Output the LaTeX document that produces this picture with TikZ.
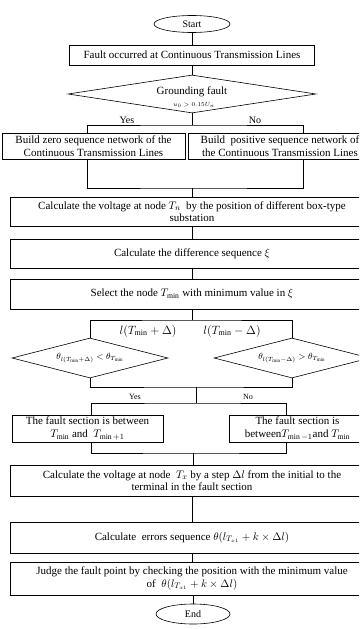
\documentclass[tikz,border=0pt]{standalone}
\usepackage{fontspec}
\setmainfont{Liberation Serif}
\usepackage{amsmath}
\usetikzlibrary{shapes.geometric, positioning, calc}

\begin{document}
\begin{tikzpicture}[x=1pt, y=-1pt, line width=0.6pt,
  font=\fontsize{11}{12.5}\selectfont,
  procbox/.style={draw, rectangle, align=center, inner sep=1pt},
  termbox/.style={draw, ellipse, inner sep=0pt, font=\fontsize{10}{11}\selectfont},
  decbox/.style={draw, diamond, inner sep=0pt},
  branchlbl/.style={inner sep=0pt, font=\fontsize{10}{11}\selectfont}]
  \useasboundingbox (0,0) rectangle (359,629);
  \clip (0,0) rectangle (359,629);

  % start and fault detection
  \node[termbox, minimum width=76pt, minimum height=17pt] (start) at (192,24) {Start};
  \node[procbox, minimum width=245pt, minimum height=20pt] (fault) at (192,55)
    {Fault occurred at Continuous Transmission Lines};
  \node[decbox, aspect=6.5, minimum width=248pt, minimum height=38pt] (ground) at (192,94) {};
  \node[inner sep=0pt] (gtext) at (192,92) {Grounding fault};
  \node[inner sep=0pt, font=\fontsize{6}{6}\selectfont] (gcond) at (194,105) {$u_0>0.15U_n$};
  \node[branchlbl] (yes1) at (127,120) {Yes};
  \node[branchlbl] (no1) at (255,120) {No};

  % sequence networks
  \node[procbox, minimum width=183pt, minimum height=26pt] (zero) at (93.5,146)
    {Build zero sequence network of the\\Continuous Transmission Lines};
  \node[procbox, minimum width=184pt, minimum height=26pt] (pos) at (280,146)
    {Build\ \ positive sequence network of\\the Continuous Transmission Lines};
  \coordinate (split1) at (192,125);
  \coordinate (merge1) at (192,188);

  % voltage, difference, minimum
  \node[procbox, minimum width=364pt, minimum height=29pt] (volt) at (192,211.5)
    {Calculate the voltage at node $T_n$\ \ by the position of different box-type\\substation};
  \node[procbox, minimum width=364pt, minimum height=29pt] (diff) at (192,253.5)
    {Calculate the difference sequence $\xi$};
  \node[procbox, minimum width=364pt, minimum height=30pt] (select) at (192,294)
    {Select the node $T_{\min}$ with minimum value in $\xi$};

  % direction check
  \coordinate (split2) at (192,320);
  \node[inner sep=0pt, font=\fontsize{12}{12}\selectfont] (lplus) at (148,331) {$l(T_{\min}+\Delta)$};
  \node[inner sep=0pt, font=\fontsize{12}{12}\selectfont] (lminus) at (232,331) {$l(T_{\min}-\Delta)$};
  \node[decbox, aspect=3.9, minimum width=156pt, minimum height=40pt, font=\fontsize{9}{10}\selectfont] (left) at (90,358)
    {$\theta_{l(T_{\min}+\Delta)}<\theta_{T_{\min}}$};
  \node[decbox, aspect=3.9, minimum width=156pt, minimum height=40pt, font=\fontsize{9}{10}\selectfont] (right) at (292,358)
    {$\theta_{l(T_{\min}-\Delta)}>\theta_{T_{\min}}$};
  \coordinate (merge2) at (196,387);
  \coordinate (split3) at (196,403);
  \node[branchlbl, font=\fontsize{8}{9}\selectfont] (yes2) at (135,397) {Yes};
  \node[branchlbl, font=\fontsize{8}{9}\selectfont] (no2) at (248,397) {No};

  % fault sections
  \node[procbox, minimum width=151pt, minimum height=27pt] (secl) at (87.5,428.5)
    {The fault section is between\\$T_{\min}$ and\ \ $T_{\min+1}$};
  \node[procbox, minimum width=137pt, minimum height=27pt] (secr) at (297.5,428.5)
    {The fault section is\\between$T_{\min-1}$and $T_{\min}$};
  \coordinate (merge3) at (193,453);

  % location steps
  \node[procbox, minimum width=364pt, minimum height=31pt] (step) at (192,480.5)
    {Calculate the voltage at node\ \ $T_x$ by a step $\Delta l$ from the initial to the\\terminal in the fault section};
  \node[procbox, minimum width=364pt, minimum height=31pt] (err) at (192,537.5)
    {Calculate\ \ errors sequence $\theta(l_{T_{x1}}+k\times\Delta l)$};
  \node[procbox, minimum width=364pt, minimum height=33pt] (judge) at (192,578.5)
    {Judge the fault point by checking the position with the minimum value\\of\ \ $\theta(l_{T_{x1}}+k\times\Delta l)$};
  \node[termbox, minimum width=74pt, minimum height=20pt] (end) at (193,614) {End};

  % connectors
  \draw (start) -- (fault);
  \draw (fault) -- (ground);
  \draw (ground.south) -- (split1);
  \draw ([xshift=-6pt]zero.north) |- (split1) -| ([xshift=23pt]pos.north);
  \draw ([xshift=-6pt]zero.south) |- (merge1) -| ([xshift=23pt]pos.south);
  \draw (merge1) -- (volt);
  \draw (volt) -- (diff);
  \draw (diff) -- (select);
  \draw (select) -- (split2);
  \draw (left.north) |- (split2) -| (right.north);
  \draw (left.south) |- (merge2) -| (right.south);
  \draw (merge2) -- (split3);
  \draw ([xshift=3.5pt]secl.north) |- (split3) -| ([xshift=-11.5pt]secr.north);
  \draw ([xshift=3.5pt]secl.south) |- (merge3) -| ([xshift=-11.5pt]secr.south);
  \draw (merge3) -- (merge3 |- step.north);
  \draw (step) -- (err);
  \draw (err) -- (judge);
  \draw (judge.south -| end.north) -- (end.north);
\end{tikzpicture}
\end{document}
